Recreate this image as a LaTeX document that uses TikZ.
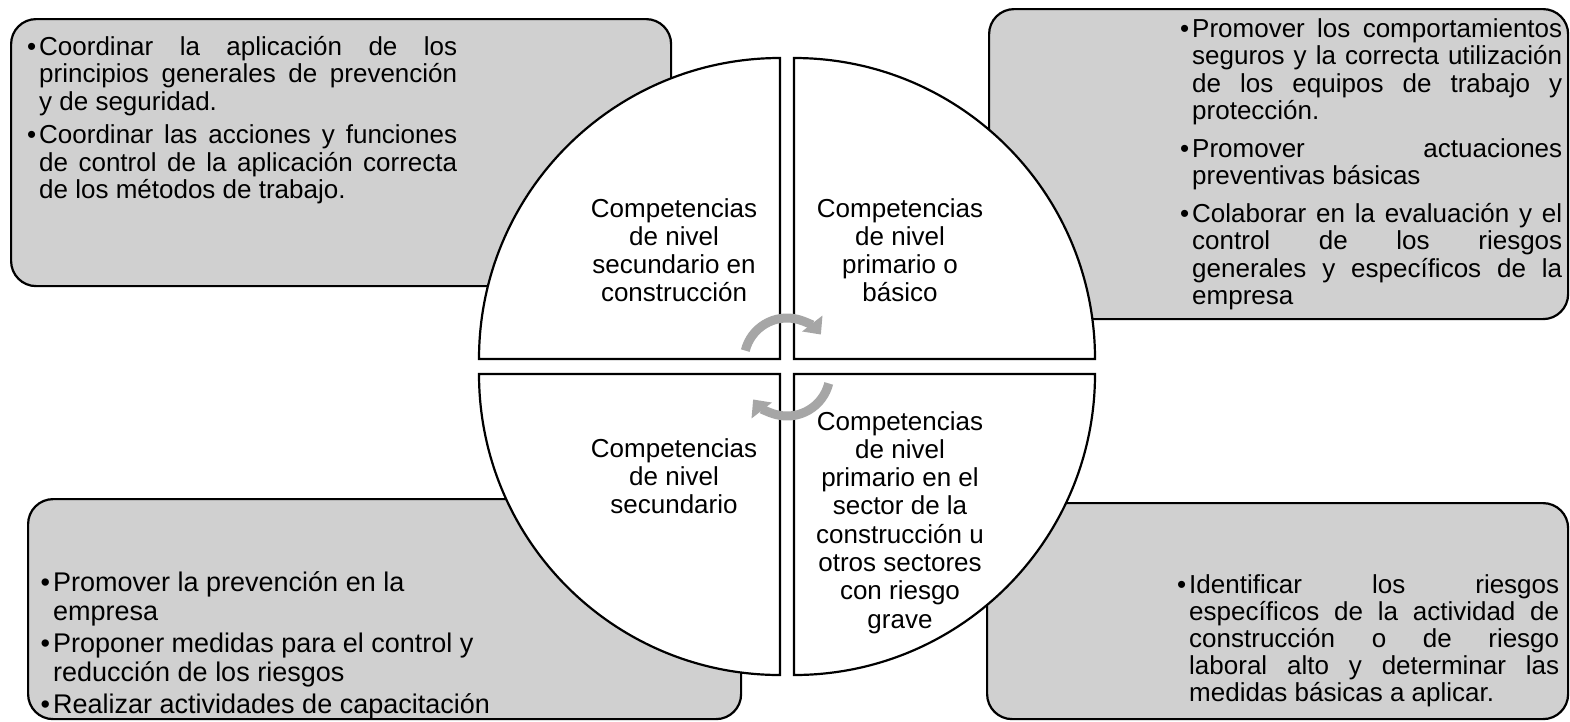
\documentclass[tikz,border=0pt]{standalone}
\usepackage{fontspec}
\setmainfont{Liberation Sans}
\usetikzlibrary{arrows.meta}
\definecolor{boxgray}{RGB}{208,208,208}
\definecolor{arrowgray}{RGB}{166,166,166}
\newdimen\bw
\newdimen\pg
\newcommand\bul{\llap{\textbullet\hspace{3pt}}}
\newcommand\jl[1]{\hbox to \bw{#1}}
\newcommand\el[1]{\hbox{#1}}
\newcommand\pgap{\vskip\pg}
\newcommand\cl[1]{\hbox to 0pt{\hss#1\hss}}
\begin{document}
\begin{tikzpicture}[x=1pt,y=-1pt,
  infobox/.style={draw=black,fill=boxgray,line width=2.2pt,rounded corners=25pt,inner sep=0pt,anchor=north west},
  quad/.style={draw=black,fill=white,line width=2.2pt},
  cyc/.style={draw=arrowgray,line width=9pt,-{Triangle[width=25pt,length=14pt]}},
  qtext/.style={inner sep=0pt,anchor=base,font=\fontsize{26}{28.3}\selectfont},
  btext/.style={inner sep=0pt,anchor=base west,font=\fontsize{26}{27.5}\selectfont}]
\useasboundingbox (0,0) rectangle (1570,721);
% boxes
\node[infobox,minimum width=660pt,minimum height=267pt] (boxTL) at (10,18) {};
\node[infobox,minimum width=579pt,minimum height=310pt] (boxTR) at (988,8) {};
\node[infobox,minimum width=713pt,minimum height=220pt] (boxBL) at (27,498) {};
\node[infobox,minimum width=581pt,minimum height=216pt] (boxBR) at (986,502) {};
% quadrants
\draw[quad] (780,359) -- ++(-301,0) arc[start angle=180,end angle=270,radius=301] -- cycle;
\draw[quad] (794,359) -- ++(0,-301) arc[start angle=270,end angle=360,radius=301] -- cycle;
\draw[quad] (794,374) -- ++(301,0) arc[start angle=0,end angle=90,radius=301] -- cycle;
\draw[quad] (780,374) -- ++(0,301) arc[start angle=90,end angle=180,radius=301] -- cycle;
% cycle arrows
\coordinate (ctop) at (787,361);
\coordinate (cbot) at (787,373);
\draw[cyc] ([shift={(194:43)}]ctop) arc[start angle=194,end angle=322,radius=43];
\draw[cyc] ([shift={(14:43)}]cbot) arc[start angle=14,end angle=142,radius=43];
% quadrant texts
\node[qtext] (qTL) at (674,217) {\vtop{\cl{Competencias}\cl{de nivel}\cl{secundario en}\cl{construcción}}};
\node[qtext] (qTR) at (900,217) {\vtop{\cl{Competencias}\cl{de nivel}\cl{primario o}\cl{básico}}};
\node[qtext] (qBL) at (674,457) {\vtop{\cl{Competencias}\cl{de nivel}\cl{secundario}}};
\node[qtext] (qBR) at (900,430) {\vtop{\cl{Competencias}\cl{de nivel}\cl{primario en el}\cl{sector de la}\cl{construcción u}\cl{otros sectores}\cl{con riesgo}\cl{grave}}};
% box texts
\node[btext] (tTL) at (39,55) {\bw=418pt\pg=6pt\vtop{%
  \jl{\bul Coordinar la aplicación de los}\jl{principios generales de prevención}\el{y de seguridad.}\pgap
  \jl{\bul Coordinar las acciones y funciones}\jl{de control de la aplicación correcta}\el{de los métodos de trabajo.}}};
\node[btext] (tTR) at (1192,37) {\bw=370pt\pg=10pt\vtop{%
  \jl{\bul Promover los comportamientos}\jl{seguros y la correcta utilización}\jl{de los equipos de trabajo y}\el{protección.}\pgap
  \jl{\bul Promover actuaciones}\el{preventivas básicas}\pgap
  \jl{\bul Colaborar en la evaluación y el}\jl{control de los riesgos}\jl{generales y específicos de la}\el{empresa}}};
\node[btext,font=\fontsize{27}{29.5}\selectfont] (tBL) at (53,591) {\pg=2pt\vtop{%
  \el{\bul Promover la prevención en la}\el{empresa}\pgap
  \el{\bul Proponer medidas para el control y}\el{reducción de los riesgos}\pgap
  \el{\bul Realizar actividades de capacitación}}};
\node[btext,font=\fontsize{26}{27}\selectfont] (tBR) at (1189,593) {\bw=370pt\vtop{%
  \jl{\bul Identificar los riesgos}\jl{específicos de la actividad de}\jl{construcción o de riesgo}\jl{laboral alto y determinar las}\el{medidas básicas a aplicar.}}};
\end{tikzpicture}
\end{document}
